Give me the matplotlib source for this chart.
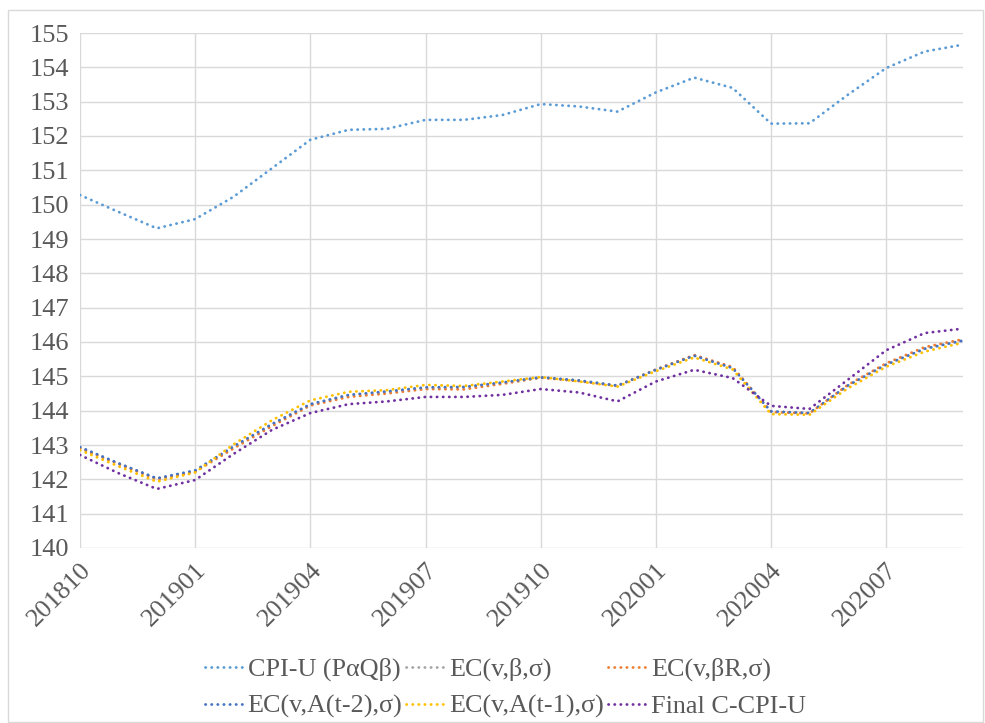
import numpy as np
import matplotlib.pyplot as plt
from matplotlib.patches import Rectangle

plt.rcParams['font.family'] = ['Liberation Serif', 'DejaVu Serif']

months = ["201810", "201811", "201812", "201901", "201902", "201903",
          "201904", "201905", "201906", "201907", "201908", "201909",
          "201910", "201911", "201912", "202001", "202002", "202003",
          "202004", "202005", "202006", "202007", "202008", "202009"]

cpi_u = [150.28, 149.79, 149.31, 149.58, 150.23, 151.06, 151.89, 152.18,
         152.21, 152.47, 152.47, 152.61, 152.93, 152.86, 152.71, 153.27,
         153.70, 153.40, 152.36, 152.37, 153.20, 153.98, 154.46, 154.66]
ec_beta = [142.93, 142.46, 142.02, 142.25, 142.94, 143.60, 144.18, 144.45,
           144.55, 144.67, 144.68, 144.81, 144.97, 144.88, 144.73, 145.19,
           145.61, 145.25, 143.97, 143.93, 144.73, 145.35, 145.81, 146.05]
ec_beta_r = [142.90, 142.45, 142.00, 142.22, 142.90, 143.55, 144.15, 144.40,
             144.50, 144.63, 144.62, 144.78, 144.96, 144.86, 144.72, 145.20,
             145.62, 145.27, 143.96, 143.92, 144.75, 145.38, 145.85, 146.08]
ec_a_t2 = [142.94, 142.47, 142.03, 142.26, 142.96, 143.61, 144.19, 144.46,
           144.56, 144.68, 144.69, 144.82, 144.97, 144.88, 144.73, 145.19,
           145.60, 145.24, 143.98, 143.93, 144.73, 145.34, 145.80, 146.04]
ec_a_t1 = [142.85, 142.38, 141.93, 142.20, 143.02, 143.72, 144.30, 144.55,
           144.60, 144.75, 144.72, 144.85, 144.98, 144.85, 144.70, 145.15,
           145.55, 145.20, 143.90, 143.88, 144.65, 145.28, 145.72, 145.98]
final_ccpi = [142.71, 142.18, 141.72, 141.98, 142.74, 143.44, 143.93, 144.19,
              144.27, 144.40, 144.40, 144.46, 144.63, 144.53, 144.27, 144.85,
              145.19, 144.95, 144.14, 144.05, 144.90, 145.76, 146.26, 146.39]

series = [
    ("CPI-U (P\u03b1Q\u03b2)", cpi_u, "#5B9BD5"),
    ("EC(v,\u03b2,\u03c3)", ec_beta, "#A5A5A5"),
    ("EC(v,\u03b2R,\u03c3)", ec_beta_r, "#ED7D31"),
    ("EC(v,A(t-2),\u03c3)", ec_a_t2, "#4472C4"),
    ("EC(v,A(t-1),\u03c3)", ec_a_t1, "#FFC000"),
    ("Final C-CPI-U", final_ccpi, "#7030A0"),
]

fig = plt.figure(figsize=(9.85, 7.23), dpi=100)
fig.patches.append(Rectangle((8 / 985, 0.002), 1 - 8 / 985 - 0.002, 1 - 11 / 723,
                             transform=fig.transFigure, fill=False,
                             edgecolor="#D9D9D9", linewidth=1))
ax = fig.add_axes([80 / 985, 175 / 723, 883 / 985, 515 / 723])

x = np.arange(len(months))
handles = []
for name, vals, color in series:
    h, = ax.plot(x, vals, color=color, linewidth=2.0,
                 linestyle=(0, (0.1, 2.1)), dash_capstyle="round",
                 label=name)
    handles.append(h)

ax.set_xlim(0, len(months) - 1)
ax.set_ylim(140, 155)
ax.set_yticks(np.arange(140, 156, 1))
ax.set_xticks(x[::3])
ax.set_xticklabels(months[::3], rotation=45, ha="right",
                   rotation_mode="anchor")
ax.grid(True, color="#D9D9D9", linewidth=1)
ax.set_axisbelow(True)
for s in ax.spines.values():
    s.set_visible(False)
ax.tick_params(length=0, labelsize=19, colors="#595959", pad=8)

# legend fills column-wise, reorder so rows read like the original
order = [0, 3, 1, 4, 2, 5]
fig.legend([handles[i] for i in order], [series[i][0] for i in order],
           loc="center", bbox_to_anchor=(0.513, 35 / 723), ncol=3,
           frameon=False, fontsize=18.8, handlelength=1.5, handletextpad=0.15,
           columnspacing=0.15, labelspacing=0.5, borderpad=0,
           labelcolor="#595959")

fig.savefig("out.png", dpi=100)
